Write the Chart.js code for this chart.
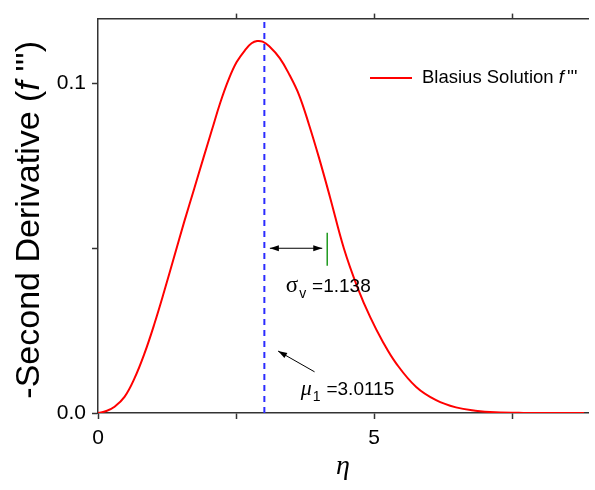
<!DOCTYPE html>
<html>
<head>
<meta charset="utf-8">
<script src="https://cdn.jsdelivr.net/npm/chart.js@4/dist/chart.umd.min.js"></script>
<style>
  html, body { margin: 0; padding: 0; background: #fff; }
</style>
</head>
<body>
<canvas id="chart" width="595" height="490"></canvas>
<script>
// values
const eta = [0, 0.15, 0.3, 0.48, 0.66, 0.84, 1.02, 1.2, 1.38, 1.56, 1.74, 1.91, 2.06, 2.21, 2.36, 2.51, 2.68, 2.78, 2.88, 2.98, 3.1, 3.29, 3.47, 3.64, 3.82, 4.0, 4.2, 4.45, 4.7, 4.93, 5.16, 5.4, 5.76, 6.12, 6.48, 6.83, 7.19, 7.7, 8.8];
const secondDeriv = [0, 0.0006, 0.0019, 0.0049, 0.0105, 0.018, 0.027, 0.037, 0.0475, 0.058, 0.068, 0.0775, 0.0858, 0.094, 0.101, 0.1065, 0.1105, 0.1122, 0.1129, 0.1127, 0.1113, 0.1077, 0.1025, 0.0965, 0.0875, 0.0775, 0.0655, 0.050, 0.038, 0.029, 0.0215, 0.015, 0.0079, 0.0039, 0.0017, 0.0007, 0.0002, 0.00003, 0];
const xLabels = [0, 5];
const yLabels = [0, 0.1];
const mu1 = 3.0115;
const sigmaV = 1.138;
const xMax = 8.87;
const yMax = 0.1197;

const sans = "'Liberation Sans', Arial, sans-serif";
const serif = "'Liberation Serif', 'Times New Roman', serif";

function near(v, step) {
  return Math.abs(v / step - Math.round(v / step)) < 1e-6;
}

function arrowHead(ctx, x1, y1, x2, y2, len, w) {
  const a = Math.atan2(y2 - y1, x2 - x1);
  ctx.beginPath();
  ctx.moveTo(x2, y2);
  ctx.lineTo(x2 - len * Math.cos(a) + w * Math.sin(a), y2 - len * Math.sin(a) - w * Math.cos(a));
  ctx.lineTo(x2 - len * Math.cos(a) - w * Math.sin(a), y2 - len * Math.sin(a) + w * Math.cos(a));
  ctx.closePath();
  ctx.fill();
}

const decorations = {
  id: 'decorations',
  afterDraw(chart) {
    const ctx = chart.ctx;
    const xs = chart.scales.x, ys = chart.scales.y;
    const area = chart.chartArea;
    const px = v => xs.getPixelForValue(v);
    const py = v => ys.getPixelForValue(v);
    ctx.save();

    // sigma arrow (double headed)
    ctx.strokeStyle = '#000';
    ctx.fillStyle = '#000';
    ctx.lineWidth = 1;
    const ay = py(0.05);
    const ax1 = px(mu1 + 0.1), ax2 = px(mu1 + sigmaV - 0.09);
    ctx.beginPath();
    ctx.moveTo(ax1, ay);
    ctx.lineTo(ax2, ay);
    ctx.stroke();
    arrowHead(ctx, ax2, ay, ax1, ay, 9, 3);
    arrowHead(ctx, ax1, ay, ax2, ay, 9, 3);

    // mu arrow
    const mx1 = px(3.92), my1 = py(0.0125), mx2 = px(3.26), my2 = py(0.0188);
    ctx.beginPath();
    ctx.moveTo(mx1, my1);
    ctx.lineTo(mx2, my2);
    ctx.stroke();
    arrowHead(ctx, mx1, my1, mx2, my2, 9, 3);

    // annotation texts
    ctx.textBaseline = 'alphabetic';
    ctx.textAlign = 'left';
    let tx = px(3.4), ty = py(0.0367);
    ctx.font = '23px ' + serif;
    ctx.fillText('\u03c3', tx, ty);
    tx += ctx.measureText('\u03c3').width + 1;
    ctx.font = '14px ' + sans;
    ctx.fillText('v', tx, ty + 6);
    tx += ctx.measureText('v ').width + 2;
    ctx.font = '19px ' + sans;
    ctx.fillText('=1.138', tx, ty);

    tx = px(3.67); ty = py(0.0055);
    ctx.font = 'italic 22px ' + serif;
    ctx.fillText('\u03bc', tx, ty);
    tx += ctx.measureText('\u03bc').width + 1;
    ctx.font = '14px ' + sans;
    ctx.fillText('1', tx, ty + 6);
    tx += ctx.measureText('1 ').width + 2;
    ctx.font = '19px ' + sans;
    ctx.fillText('=3.0115', tx, ty);

    // legend
    ctx.strokeStyle = '#ff0000';
    ctx.lineWidth = 2;
    ctx.beginPath();
    ctx.moveTo(370, 78);
    ctx.lineTo(412, 78);
    ctx.stroke();
    ctx.fillStyle = '#000';
    ctx.textBaseline = 'middle';
    ctx.font = '18.5px ' + sans;
    let lx = 422;
    ctx.fillText('Blasius Solution ', lx, 78);
    lx += ctx.measureText('Blasius Solution ').width;
    ctx.font = 'italic 18.5px ' + sans;
    ctx.fillText('f', lx, 78);
    lx += ctx.measureText('f').width + 3;
    ctx.font = '18.5px ' + sans;
    ctx.fillText("'''", lx, 78);

    // y axis title
    ctx.save();
    ctx.translate(30, (area.top + area.bottom) / 2 + 4);
    ctx.rotate(-Math.PI / 2);
    const parts = [
      ['-Second Derivative (', '34px ' + sans],
      ['f', 'italic 34px ' + sans],
      [" ''')", '34px ' + sans]
    ];
    let total = 0;
    parts.forEach(p => { ctx.font = p[1]; total += ctx.measureText(p[0]).width; });
    let cx = -total / 2;
    ctx.textBaseline = 'middle';
    parts.forEach(p => {
      ctx.font = p[1];
      ctx.fillText(p[0], cx, 0);
      cx += ctx.measureText(p[0]).width;
    });
    ctx.restore();

    // x axis title
    ctx.font = 'italic 28px ' + serif;
    ctx.textAlign = 'center';
    ctx.textBaseline = 'middle';
    ctx.fillText('\u03b7', (area.left + area.right) / 2, area.bottom + 54);

    ctx.restore();
  }
};

const tickFont = { family: sans, size: 21 };

new Chart(document.getElementById('chart'), {
  type: 'scatter',
  data: {
    datasets: [
      {
        label: 'mu',
        data: [{ x: mu1, y: 0 }, { x: mu1, y: yMax }],
        showLine: true,
        borderColor: '#2b2bff',
        borderWidth: 2,
        borderDash: [6, 5],
        pointRadius: 0
      },
      {
        label: 'sigma',
        data: [{ x: mu1 + sigmaV, y: 0.0447 }, { x: mu1 + sigmaV, y: 0.0547 }],
        showLine: true,
        borderColor: '#1f9a1f',
        borderWidth: 1.5,
        pointRadius: 0
      },
      {
        label: 'Blasius Solution f\'\'\'',
        data: eta.map((x, i) => ({ x: x, y: secondDeriv[i] })),
        showLine: true,
        borderColor: '#ff0000',
        borderWidth: 2,
        pointRadius: 0,
        tension: 0.4
      }
    ]
  },
  options: {
    responsive: false,
    animation: false,
    devicePixelRatio: 1,
    layout: { padding: { left: 0, right: 1, top: 0, bottom: 0 } },
    plugins: { legend: { display: false }, tooltip: { enabled: false } },
    scales: {
      x: {
        type: 'linear',
        position: 'bottom',
        min: 0,
        max: xMax,
        afterFit: s => { s.height = 77; },
        border: { color: '#333', width: 1.5 },
        grid: {
          drawOnChartArea: false,
          tickLength: 6,
          tickWidth: 1.5,
          tickColor: c => near(c.tick.value, 2.5) ? '#333' : 'rgba(0,0,0,0)'
        },
        ticks: {
          stepSize: 2.5,
          autoSkip: false,
          maxRotation: 0,
          padding: 7,
          color: '#000',
          font: tickFont,
          callback: v => xLabels.some(t => Math.abs(t - v) < 1e-6) ? String(v) : ''
        }
      },
      x2: {
        type: 'linear',
        position: 'top',
        min: 0,
        max: xMax,
        afterFit: s => { s.height = 16; },
        border: { color: '#333', width: 1.5 },
        grid: {
          drawOnChartArea: false,
          tickLength: 5,
          tickWidth: 1.5,
          tickColor: c => near(c.tick.value, 2.5) && c.tick.value > 0 ? '#333' : 'rgba(0,0,0,0)'
        },
        ticks: { stepSize: 2.5, autoSkip: false, maxRotation: 0, font: { size: 1 }, callback: () => '' }
      },
      y: {
        type: 'linear',
        min: 0,
        max: yMax,
        afterFit: s => { s.width = 98; },
        border: { color: '#333', width: 1.5 },
        grid: {
          drawOnChartArea: false,
          tickLength: 6,
          tickWidth: 1.5,
          tickColor: c => near(c.tick.value, 0.05) ? '#333' : 'rgba(0,0,0,0)'
        },
        ticks: {
          stepSize: 0.05,
          autoSkip: false,
          padding: 6,
          color: '#000',
          font: tickFont,
          callback: v => yLabels.some(t => Math.abs(t - v) < 1e-6) ? v.toFixed(1) : ''
        }
      }
    }
  },
  plugins: [decorations]
});
</script>
</body>
</html>
